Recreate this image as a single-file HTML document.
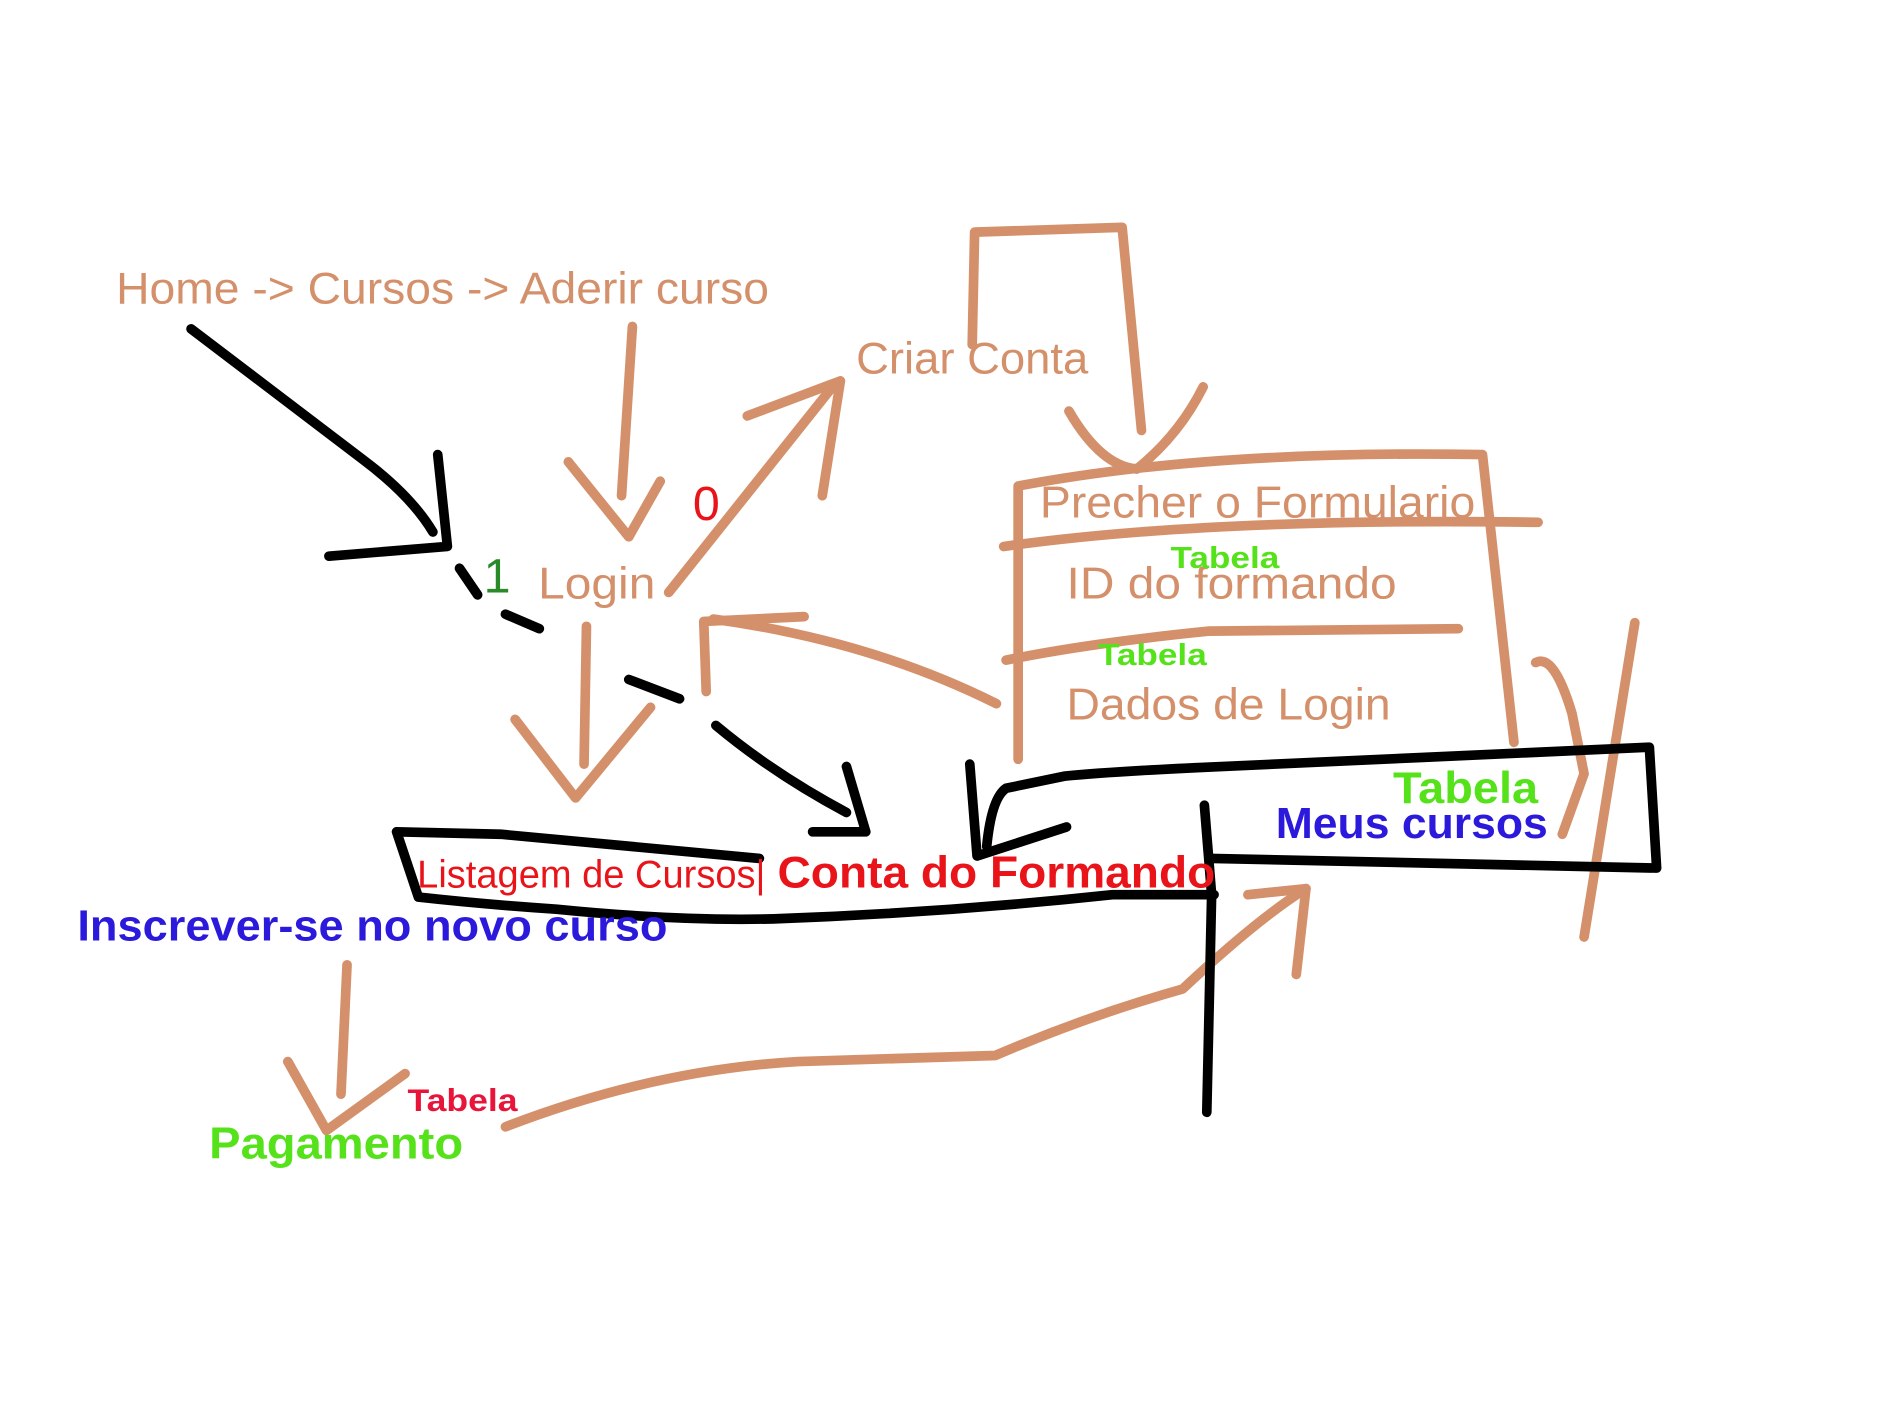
<!DOCTYPE html>
<html><head><meta charset="utf-8">
<style>
html,body{margin:0;padding:0;background:#fff;}
svg{display:block;}
text{font-family:"Liberation Sans",sans-serif;}
</style></head>
<body>
<svg width="1890" height="1417" viewBox="0 0 1563 1172" preserveAspectRatio="none" xmlns="http://www.w3.org/2000/svg">
<g fill="none" stroke="#d4906a" stroke-width="8" stroke-linecap="round" stroke-linejoin="round">
  <path d="M523 270 L514 410"/>
  <path d="M470 382 L520 444 L546 398"/>
  <path d="M553 490 L690 318"/>
  <path d="M618 344 L695 315 L680 410"/>
  <path d="M804 285 L806 192 L928 188 L944 356"/>
  <path d="M884 340 Q910 385 940 388 Q975 360 995 320"/>
  <path d="M842 628 L842 402 Q1000 372 1226 376 L1252 614"/>
  <path d="M830 452 Q1000 428 1272 432"/>
  <path d="M832 546 Q900 532 1000 522 L1206 520"/>
  <path d="M824 582 Q720 530 590 512"/>
  <path d="M665 510 L582 514 L584 572"/>
  <path d="M485 518 L483 632"/>
  <path d="M426 595 L476 660 L538 585"/>
  <path d="M287 798 L282 905"/>
  <path d="M238 878 L270 935 L335 888"/>
  <path d="M418 932 Q540 885 660 878 L823 873 Q900 840 978 818 Q1040 760 1080 735"/>
  <path d="M1032 740 L1080 735 L1072 806"/>
  <path d="M1352 515 L1310 775"/>
  <path d="M1270 548 Q1285 540 1300 590 L1310 640 L1292 690"/>
</g>
<g fill="none" stroke="#000" stroke-width="8" stroke-linecap="round" stroke-linejoin="round">
  <path d="M158 272 L300 380 Q340 410 358 440"/>
  <path d="M362 376 L370 452 L272 460"/>
  <path d="M380 470 L395 492"/>
  <path d="M418 508 L446 520"/>
  <path d="M520 562 L562 578"/>
  <path d="M592 600 Q640 640 700 672"/>
  <path d="M700 634 L716 688 L672 688"/>
  <path d="M328 688 L414 690 Q520 700 628 710"/>
  <path d="M328 688 L346 742 Q400 748 460 752 Q560 762 640 760 Q780 755 920 740 L1004 740"/>
  <path d="M1002 710 L1370 718 L1364 618 L1010 634 Q920 638 880 642 L832 652 Q820 660 816 700"/>
  <path d="M802 632 L808 708 L882 684"/>
  <path d="M996 666 L1002 740 L998 920"/>
</g>
<g style="letter-spacing:0">
<text x="96" y="251" font-size="37" fill="#d4906a" textLength="540" lengthAdjust="spacingAndGlyphs">Home -&gt; Cursos -&gt; Aderir curso</text>
<text x="708" y="309" font-size="37" fill="#d4906a" textLength="192" lengthAdjust="spacingAndGlyphs">Criar Conta</text>
<text x="445" y="495" font-size="37" fill="#d4906a" textLength="97" lengthAdjust="spacingAndGlyphs">Login</text>
<text x="573" y="430" font-size="40" fill="#e8141a">0</text>
<text x="400" y="490" font-size="40" fill="#2a8a2a">1</text>
<text x="860" y="428" font-size="37" fill="#d4906a" textLength="360" lengthAdjust="spacingAndGlyphs">Precher o Formulario</text>
<text x="882" y="495" font-size="37" fill="#d4906a" textLength="273" lengthAdjust="spacingAndGlyphs">ID do formando</text>
<text x="882" y="595" font-size="37" fill="#d4906a" textLength="268" lengthAdjust="spacingAndGlyphs">Dados de Login</text>
<text x="968" y="470" font-size="25" font-weight="bold" fill="#55e21a" textLength="90" lengthAdjust="spacingAndGlyphs">Tabela</text>
<text x="908" y="550" font-size="25" font-weight="bold" fill="#55e21a" textLength="90" lengthAdjust="spacingAndGlyphs">Tabela</text>
<text x="1152" y="664" font-size="37" font-weight="bold" fill="#55e21a" textLength="120" lengthAdjust="spacingAndGlyphs">Tabela</text>
<text x="1055" y="693" font-size="36" font-weight="bold" fill="#2b19dc" textLength="225" lengthAdjust="spacingAndGlyphs">Meus cursos</text>
<text x="345" y="734" font-size="32" fill="#e8141a" textLength="288" lengthAdjust="spacingAndGlyphs">Listagem de Cursos|</text>
<text x="643" y="734" font-size="37" font-weight="bold" fill="#e8141a" textLength="362" lengthAdjust="spacingAndGlyphs">Conta do Formando</text>
<text x="64" y="778" font-size="36" font-weight="bold" fill="#2b19dc" textLength="488" lengthAdjust="spacingAndGlyphs">Inscrever-se no novo curso</text>
<text x="337" y="919" font-size="26" font-weight="bold" fill="#e8143a" textLength="91" lengthAdjust="spacingAndGlyphs">Tabela</text>
<text x="173" y="958" font-size="37" font-weight="bold" fill="#55e21a" textLength="210" lengthAdjust="spacingAndGlyphs">Pagamento</text>
</g>
</svg>
</body></html>
